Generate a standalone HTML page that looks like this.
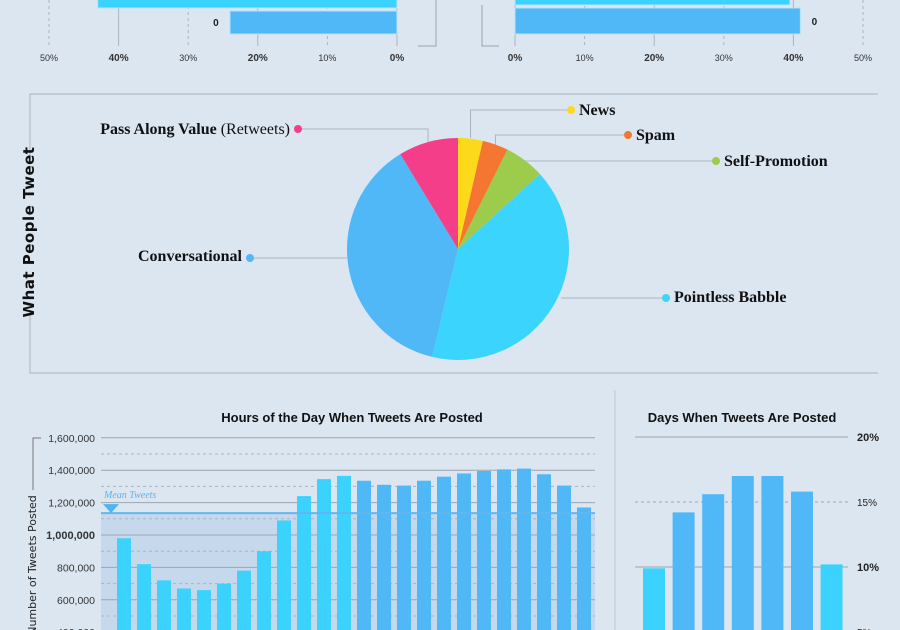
<!DOCTYPE html>
<html><head><meta charset="utf-8"><style>
html,body{margin:0;padding:0;background:#dce6f1;width:900px;height:630px;overflow:hidden;}
svg{display:block;font-family:"Liberation Sans Narrow","Liberation Sans",sans-serif;}
</style></head><body>
<svg id="s" width="900" height="630" viewBox="0 0 900 630">
<rect width="900" height="630" fill="#dce6f1"/>
<g id="top"></g>
<g id="pie"></g>
<g id="hours"></g>
<g id="days"></g>
</svg>
<script>
const NS="http://www.w3.org/2000/svg";
// ---- data ----
const topLeftValues=[43,24];
const topRightValues=[39.5,41];
const topTicks=["0%","10%","20%","30%","40%","50%"];
const pieCategories=["News","Spam","Self-Promotion","Pointless Babble","Conversational","Pass Along Value"];
const pieValues=[3.6,3.75,5.85,40.55,37.55,8.7];
const hourValues=[980000,820000,720000,670000,660000,700000,780000,900000,1090000,1240000,1345000,1365000,1335000,1310000,1305000,1335000,1360000,1380000,1395000,1405000,1410000,1375000,1305000,1170000];
const hourMean=[1135000];
const hourTicks=[400000,600000,800000,1000000,1200000,1400000,1600000];
const hourTickLabels=["400,000","600,000","800,000","1,000,000","1,200,000","1,400,000","1,600,000"];
const dayValues=[9.9,14.2,15.6,17,17,15.8,10.2];
const dayTicks=[5,10,15,20];
const dayTickLabels=["5%","10%","15%","20%"];

function el(tag,attrs,parent,text){const e=document.createElementNS(NS,tag);for(const k in attrs)e.setAttribute(k,attrs[k]);if(text!==undefined)e.textContent=text;parent.appendChild(e);return e;}

// ---- top bars ----
(function(){
const g=document.getElementById('top');
const xl=v=>397-v*6.96, xr=v=>515+v*6.96;
for(let i=0;i<=5;i++){
  const a=el('line',{x1:xl(i*10),x2:xl(i*10),y1:0,y2:46,stroke:'#aab4c0','stroke-dasharray':i%2?'3,3':'',  'stroke-width':1},g);
  
  const b=el('line',{x1:xr(i*10),x2:xr(i*10),y1:0,y2:46,stroke:'#aab4c0','stroke-dasharray':i%2?'3,3':'','stroke-width':1},g);
  
  const t1=el('text',{x:xl(i*10),y:61,'text-anchor':'middle','font-size':i%2?9:10,'font-weight':i%2?'normal':'bold',fill:'#333'},g,topTicks[i]);
  
  const t2=el('text',{x:xr(i*10),y:61,'text-anchor':'middle','font-size':i%2?9:10,'font-weight':i%2?'normal':'bold',fill:'#333'},g,topTicks[i]);
  
}
const ys=[[-10,18],[11,23]],ysr=[[-10,15],[8,26]];
topLeftValues.forEach((v,i)=>{const r=el('rect',{x:xl(v),y:ys[i][0],width:397-xl(v),height:ys[i][1],fill:i?'#50b8f6':'#3bd3fd',stroke:'#b5e2fb','stroke-width':1},g);
 });
topRightValues.forEach((v,i)=>{const r=el('rect',{x:515,y:ysr[i][0],width:xr(v)-515,height:ysr[i][1],fill:i?'#50b8f6':'#3bd3fd',stroke:'#b5e2fb','stroke-width':1},g);
 });
const l1=el('text',{x:xl(topLeftValues[1])-14,y:26,'font-size':10,'font-weight':'bold',fill:'#222','text-anchor':'middle'},g,'0');
const l2=el('text',{x:xr(topRightValues[1])+14,y:25,'font-size':10,'font-weight':'bold',fill:'#222','text-anchor':'middle'},g,'0');
const br=el('path',{d:'M418,46 H436 V0 M499,46 H482 V5',fill:'none',stroke:'#99a4b0','stroke-width':1},g);
})();

// ---- pie ----
(function(){
const g=document.getElementById('pie');
const f=el('path',{d:'M878,94 H30 V373 H878',fill:'none',stroke:'#b3bcc7','stroke-width':1.2},g);
el('rect',{x:20,y:155,width:20,height:155,fill:'#dce6f1'},g);
const tt=el('text',{x:34,y:232,transform:'rotate(-90 34 232)','text-anchor':'middle','font-size':15,'font-weight':'bold','font-family':'"DejaVu Sans",sans-serif','letter-spacing':'0.5',fill:'#111'},g,'What People Tweet');

const cx=458,cy=249,r=111;
const colors=['#fdd91b','#f57630','#9dcc4c','#3ad4fd','#50b8f6','#f43e8a'];
const total=pieValues.reduce((a,b)=>a+b,0);
let a0=0;
const labelPos=[[579,115,'start'],[636,140,'start'],[724,166,'start'],[674,302,'start'],[242,261,'end'],[290,134,'end']];
const dotPos=[[571,110],[628,135],[716,161],[666,298],[250,258],[298,129]];
pieValues.forEach((v,i)=>{
  const a1=a0+v/total*2*Math.PI;
  const p=(a)=>[cx+r*Math.sin(a),cy-r*Math.cos(a)];
  const s=p(a0),e=p(a1);
  const sl=el('path',{d:`M${cx},${cy} L${s[0]},${s[1]} A${r},${r} 0 ${a1-a0>Math.PI?1:0} 1 ${e[0]},${e[1]} Z`,fill:colors[i]},g);
  
  const m=(a0+a1)/2, edge=p(m);
  const d=dotPos[i];
  let path=`M${edge[0]},${edge[1]} V${d[1]} H${d[0]}`;
  if(i==2) path=`M${edge[0]},${d[1]} H${d[0]}`;
  if(i==3) path=`M${cx+r*0.93},${d[1]} H${d[0]}`;
  if(i==4) path=`M${cx-r},${d[1]} H${d[0]}`;
  if(i==0) path=`M${edge[0]},${cy-r} V${d[1]} H${d[0]}`;
  const ln=el('path',{d:path,fill:'none',stroke:'#a9b5c2','stroke-width':1},g);
  const dt=el('circle',{cx:d[0],cy:d[1],r:4,fill:colors[i]},g);
  const lp=labelPos[i];
  const tx=el('text',{x:lp[0],y:lp[1],'text-anchor':lp[2],'font-size':16,'font-weight':'bold','font-family':'"Liberation Serif",serif',fill:'#111'},g);
  
  tx.textContent=pieCategories[i];
  if(i==5){const ts=el('tspan',{'font-weight':'normal'},tx,' (Retweets)');}
  a0=a1;
});
})();

// ---- hours ----
(function(){
const g=document.getElementById('hours');
const y=v=>697-v/200000*32.4;
const x0=117,pitch=20,bw=14;
const t=el('text',{x:352,y:422,'text-anchor':'middle','font-size':13,'font-weight':'bold',fill:'#111'},g,'Hours of the Day When Tweets Are Posted');

const sh=el('rect',{x:101,y:y(hourMean[0]),width:494,height:630-y(hourMean[0]),fill:'#c6d9ec'},g);
hourTicks.forEach((v,i)=>{
  const gl=el('line',{x1:101,x2:595,y1:y(v),y2:y(v),stroke:'#9aa6b3','stroke-width':1},g);
  if(i<hourTicks.length-1){
  const hl=el('line',{x1:101,x2:595,y1:y(v+100000),y2:y(v+100000),stroke:'#a9b4c0','stroke-width':1,'stroke-dasharray':'3,3'},g);}
  const tl=el('text',{x:95,y:y(v)+4,'text-anchor':'end','font-size':v==1000000?11:10.5,'font-weight':v==1000000?'bold':'normal',fill:'#333'},g,hourTickLabels[i]);
  
});
hourValues.forEach((v,i)=>{const b=el('rect',{x:x0+i*pitch,y:y(v),width:bw,height:697-y(v),fill:i<12?'#3bd3fd':'#50b8f6'},g);
  });
const ml=el('line',{x1:101,x2:595,y1:y(hourMean[0]),y2:y(hourMean[0]),stroke:'#62b6f0','stroke-width':2},g);
const tri=el('path',{d:`M103,${y(hourMean[0])-9} h16 l-8,9 z`,fill:'#4fb4ef'},g);
const mt=el('text',{x:104,y:y(hourMean[0])-15,'font-size':10,'font-style':'italic','font-family':'"Liberation Serif",serif',fill:'#5fb2ea'},g,'Mean Tweets');
const ax=el('path',{d:'M41,438 H33 V490',fill:'none',stroke:'#777','stroke-width':1},g);
const at=el('text',{x:36,y:565,transform:'rotate(-90 36 565)','text-anchor':'middle','font-size':11,'font-family':'"DejaVu Sans",sans-serif',fill:'#222'},g,'Number of Tweets Posted');
})();

// ---- days ----
(function(){
const g=document.getElementById('days');
const sep=el('line',{x1:615,x2:615,y1:390,y2:630,stroke:'#b8c8da','stroke-width':1},g);
const y=v=>697-v*13;
const t=el('text',{x:742,y:422,'text-anchor':'middle','font-size':13,'font-weight':'bold',fill:'#111'},g,'Days When Tweets Are Posted');

dayTicks.forEach((v,i)=>{
  const gl=el('line',{x1:635,x2:848,y1:y(v),y2:y(v),stroke:'#9aa6b3','stroke-width':1,'stroke-dasharray':v==15||v==5?'3,3':''},g);
  const tl=el('text',{x:857,y:y(v)+4,'font-size':v%10?10:11,'font-weight':v%10?'normal':'bold',fill:'#222'},g,dayTickLabels[i]);
  
});
dayValues.forEach((v,i)=>{const b=el('rect',{x:643+i*29.6,y:y(v),width:22,height:697-y(v),fill:(i==0||i==6)?'#3bd3fd':'#50b8f6'},g);
  });
})();
</script>
</body></html>
